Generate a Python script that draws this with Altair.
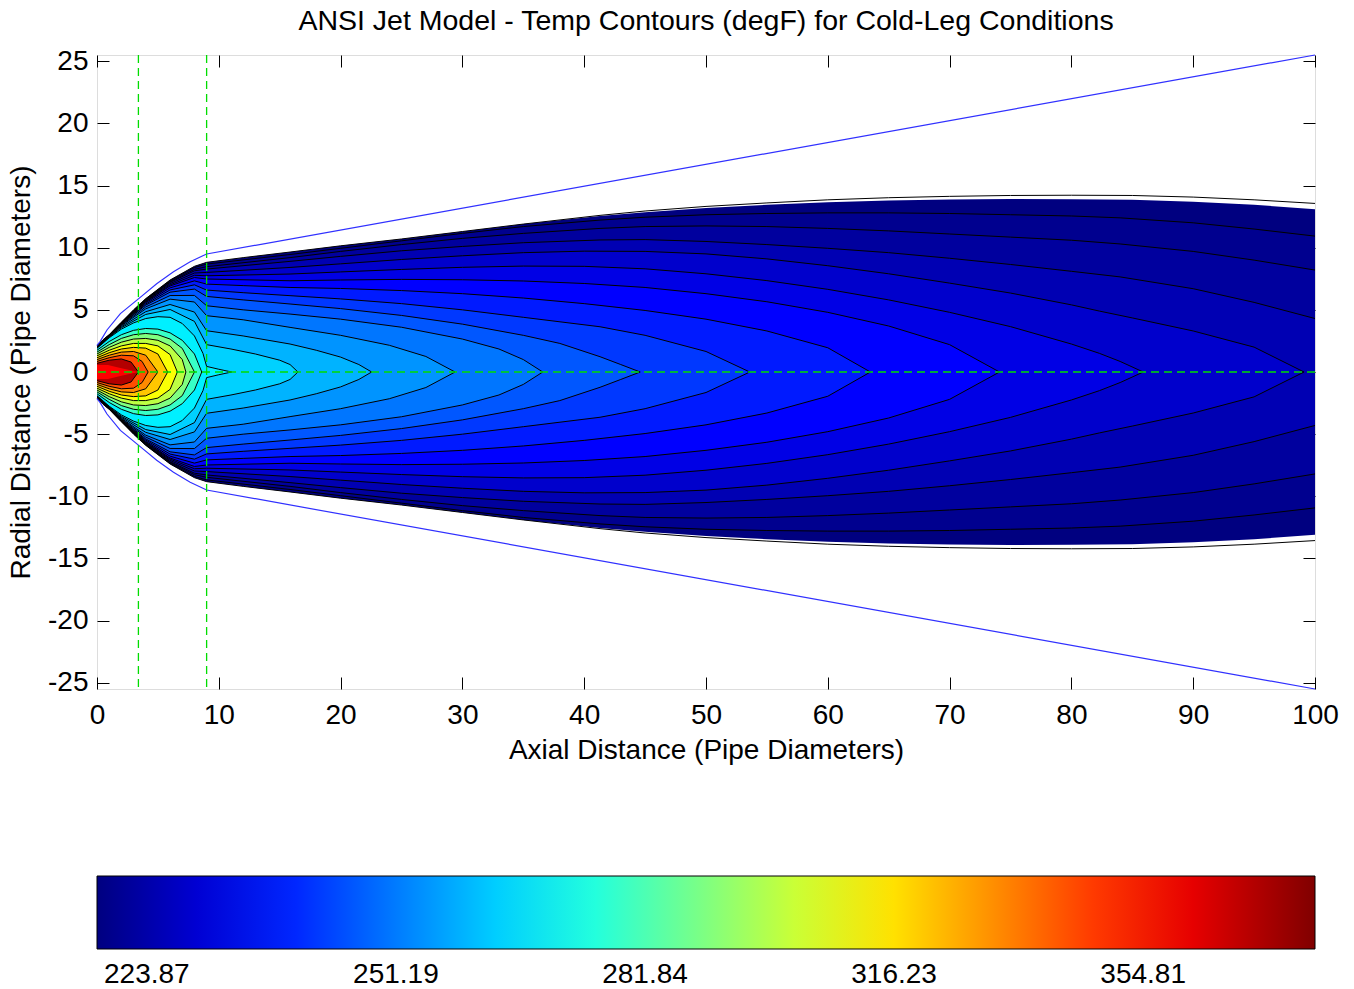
import altair as alt
import pandas as pd
import numpy as np

FONT = "Liberation Sans"
TITLE = "ANSI Jet Model - Temp Contours (degF) for Cold-Leg Conditions"
X_TITLE = "Axial Distance (Pipe Diameters)"
Y_TITLE = "Radial Distance (Pipe Diameters)"
X_TICKS = [0, 10, 20, 30, 40, 50, 60, 70, 80, 90, 100]
Y_TICKS = [-25, -20, -15, -10, -5, 0, 5, 10, 15, 20, 25]
CBAR_TICKS_LOG = [2.35, 2.40, 2.45, 2.50, 2.55]   # 223.87 ... 354.81 degF
CBAR_DOMAIN = [2.34, 2.3706, 2.4011, 2.4317, 2.4623, 2.4928, 2.5234, 2.5539, 2.5845]
JET = ["#000080", "#0000ff", "#0080ff", "#00ffff", "#80ff80",
       "#ffff00", "#ff8000", "#ff0000", "#800000"]

# ---- contour half-widths (x, y upper) ---------------------------------------
ENV_FILL = [(0, 2.1), (0.5, 2.6), (1, 3.0), (2, 4.0), (3, 5.0), (4, 5.9), (6, 7.4), (8, 8.5),
            (9, 8.82), (12, 9.2), (15.85, 9.65), (20, 10.15), (25, 10.7), (30, 11.3),
            (35, 11.9), (41.3, 12.55), (45, 12.85), (50, 13.2), (55, 13.45), (60, 13.65),
            (65, 13.8), (70, 13.88), (75, 13.92), (80, 13.9), (85, 13.85), (90, 13.7),
            (95, 13.45), (100, 13.1)]
ENV_RIM = [(0, 2.1), (0.5, 2.6), (1, 3.0), (2, 4.0), (3, 5.0), (4, 5.9), (6, 7.4), (8, 8.5),
           (9, 8.82), (12, 9.2), (15.85, 9.65), (20, 10.15), (25, 10.7), (30, 11.3),
           (35, 11.9), (41.3, 12.6), (45, 12.95), (50, 13.32), (55, 13.6), (60, 13.85),
           (65, 14.02), (70, 14.13), (75, 14.2), (80, 14.22), (85, 14.2), (90, 14.07),
           (95, 13.85), (100, 13.56)]
C_I = [(0, 2.1), (1, 2.99), (2, 3.99), (4, 5.87), (6, 7.35), (8, 8.40), (9, 8.68), (15.85, 9.45),
       (20, 9.95), (25, 10.55), (30, 11.15), (35, 11.7), (41.3, 12.22), (45, 12.45), (50, 12.65),
       (55, 12.75), (60, 12.8), (65, 12.8), (70, 12.75), (75, 12.65), (80, 12.55), (84, 12.4),
       (90, 12.0), (95, 11.5), (100, 10.93)]
C_H = [(0, 2.09), (1, 2.99), (2, 3.98), (4, 5.83), (6, 7.27), (8, 8.26), (9, 8.47), (15.85, 9.2),
       (20, 9.7), (25, 10.25), (30, 10.75), (35, 11.15), (41.3, 11.55), (45, 11.7), (50, 11.75),
       (55, 11.7), (60, 11.55), (65, 11.35), (70, 11.1), (75, 10.85), (80, 10.6), (84, 10.3),
       (90, 9.7), (95, 9.0), (100, 8.2)]
C_G = [(0, 2.09), (1, 2.98), (2, 3.96), (4, 5.80), (6, 7.21), (8, 8.14), (9, 8.28), (15.85, 8.9),
       (20, 9.3), (25, 9.75), (30, 10.1), (35, 10.4), (41.3, 10.62), (45, 10.65), (50, 10.5),
       (55, 10.25), (60, 9.95), (65, 9.6), (70, 9.15), (75, 8.65), (80, 8.1), (84, 7.65),
       (90, 6.7), (95, 5.6), (100, 4.3)]
C_F = [(0, 2.08), (1, 2.98), (2, 3.95), (4, 5.74), (6, 7.11), (8, 7.96), (9, 8.01), (15.85, 8.41),
       (20, 8.7), (25, 9.05), (30, 9.35), (35, 9.6), (40, 9.72), (45, 9.7), (50, 9.5),
       (55, 9.1), (60, 8.55), (65, 7.9), (70, 7.15), (75, 6.35), (80, 5.4), (82.3, 4.9),
       (85, 4.35), (90, 3.3), (95, 2.0), (99.1, 0)]
C_E = [(0, 2.07), (1, 2.97), (2, 3.93), (4, 5.69), (6, 7.01), (8, 7.78), (9, 7.74), (15.85, 7.88),
       (20, 8.05), (25, 8.25), (30, 8.42), (35, 8.52), (40, 8.5), (45, 8.3), (50, 7.9),
       (55, 7.35), (60, 6.65), (65, 5.8), (70, 4.8), (75, 3.65), (80, 2.25), (82.3, 1.5),
       (84, 0.85), (85.9, 0)]
C_D = [(0, 2.07), (1, 2.96), (2, 3.91), (4, 5.64), (6, 6.92), (8, 7.60), (9, 7.48), (15.85, 7.34),
       (20, 7.4), (25, 7.45), (30, 7.42), (35, 7.32), (40, 7.12), (45, 6.8), (50, 6.3),
       (55, 5.65), (60, 4.8), (65, 3.7), (70, 2.2), (74.1, 0)]
C_C = [(0, 2.06), (1, 2.95), (2, 3.89), (4, 5.57), (6, 6.77), (8, 7.33), (9, 7.07), (12, 6.95),
       (15.85, 6.8), (20, 6.72), (25, 6.55), (30, 6.3), (35, 5.95), (40, 5.5), (45, 4.95),
       (50, 4.25), (55, 3.3), (60, 1.95), (63.5, 0)]
C_B = [(0, 2.05), (1, 2.93), (2, 3.85), (4, 5.47), (6, 6.60), (8, 7.01), (9, 6.59), (12, 6.38),
       (15.85, 6.14), (20, 5.88), (25, 5.5), (30, 5.0), (35, 4.4), (41.3, 3.64), (45, 2.95),
       (50, 1.65), (53.6, 0)]
C_A = [(0, 2.03), (1, 2.92), (2, 3.82), (4, 5.38), (6, 6.42), (8, 6.67), (9, 6.08), (12, 5.8),
       (15.85, 5.47), (20, 5.1), (25, 4.55), (30, 3.85), (35, 2.95), (38, 2.3), (41.3, 1.23),
       (43, 0.6), (44.6, 0)]
C_36 = [(0, 2.02), (1, 2.90), (2, 3.77), (4, 5.23), (6, 6.15), (8, 6.16), (9, 5.33), (12, 5.0),
        (15.85, 4.66), (20, 4.25), (25, 3.6), (30, 2.65), (33, 1.85), (35, 1.0), (36.6, 0)]
C_29 = [(0, 2.0), (1, 2.87), (2, 3.72), (4, 5.08), (6, 5.86), (8, 5.63), (9, 4.53), (12, 4.2),
        (15.85, 3.59), (20, 2.95), (24, 2.15), (27, 1.25), (29.4, 0)]
C_22 = [(0, 1.97), (1, 2.84), (2, 3.64), (4, 4.85), (6, 5.43), (8, 4.82), (9, 3.32), (12, 2.9),
        (15.85, 2.25), (18, 1.75), (20, 1.2), (21.5, 0.6), (22.55, 0)]
C_16 = [(0, 1.94), (1, 2.80), (2, 3.56), (4, 4.63), (6, 5.03), (8, 4.07), (9, 2.2), (11, 1.85),
        (13, 1.45), (15, 0.95), (15.85, 0.6), (16.5, 0)]
C_11 = [(0, 1.9), (1, 2.75), (2, 3.45), (3, 3.95), (4, 4.3), (5, 4.45), (6, 4.4), (7, 3.9),
        (8, 2.9), (8.7, 1.5), (9, 0.45), (10, 0.22), (11.06, 0)]
N_1 = [(0, 1.75), (1, 2.45), (2, 3.0), (3, 3.35), (4, 3.5), (5, 3.45), (6, 3.15), (7, 2.55),
       (8, 1.45), (8.6, 0)]
N_2 = [(0, 1.6), (1, 2.2), (2, 2.7), (3, 3.0), (4, 3.1), (5, 3.0), (6, 2.65), (7, 1.9), (8.0, 0)]
N_3 = [(0, 1.45), (1, 1.98), (2, 2.4), (3, 2.65), (4, 2.7), (5, 2.55), (6, 2.1), (7, 1.0), (7.3, 0)]
N_4 = [(0, 1.3), (1, 1.75), (2, 2.1), (3, 2.3), (4, 2.3), (5, 2.1), (6, 1.4), (6.6, 0)]
N_5 = [(0, 1.15), (1, 1.55), (2, 1.85), (3, 1.98), (4, 1.92), (5, 1.45), (5.8, 0)]
N_6 = [(0, 1.0), (1, 1.35), (2, 1.6), (3, 1.65), (4, 1.35), (5.0, 0)]
N_7 = [(0, 0.85), (1, 1.15), (2, 1.35), (3, 1.3), (3.7, 0.85), (4.2, 0)]
N_8 = [(0, 0.7), (1, 0.95), (2, 1.05), (2.8, 0.8), (3.4, 0)]
STRIP = [(0, 0.57), (0.9, 0.57), (2.0, 0.3), (3.4, 0)]

# band temperature (degF) inside each contour, outermost first
CONTOURS = [
    ("env", 218.8, ENV_FILL), ("rim", 218.8, ENV_RIM),
    ("I", 220.6, C_I), ("H", 222.5, C_H), ("G", 225.0, C_G),
    ("F", 228.2, C_F), ("E", 231.4, C_E), ("D", 234.7, C_D), ("C", 238.1, C_C),
    ("B", 242.1, C_B), ("A", 246.2, C_A), ("c36", 250.4, C_36), ("c29", 254.7, C_29),
    ("c22", 259.0, C_22), ("c16", 263.4, C_16), ("c11", 267.9, C_11),
    ("n1", 278.7, N_1), ("n2", 289.9, N_2), ("n3", 299.8, N_3), ("n4", 310.1, N_4),
    ("n5", 320.8, N_5), ("n6", 331.8, N_6), ("n7", 343.2, N_7), ("n8", 373.5, N_8),
    ("strip", 358.1, STRIP),
]
NO_LINE = {"strip", "env"}
NO_AREA = {"rim"}

BLUE_X = [0, 0.25, 0.82, 1.92, 3.45, 4.9, 6.28, 7.65, 9.0, 100]
BLUE_Y = [2.15, 2.45, 3.38, 4.7, 5.92, 7.1, 8.07, 8.87, 9.49, 25.5]
GREEN_X = [3.4, 9.0]
GREEN_Y = [0]

# ---- tables -----------------------------------------------------------------
arows, lrows = [], []
for k, (name, T, pts) in enumerate(CONTOURS):
    for x, h in pts:
        if name not in NO_AREA:
            arows.append(dict(cid=k, T=T, lt=float(np.log10(T)), x=x, h=h, nh=-h))
        if name not in NO_LINE:
            lrows.append(dict(cid=k, side="u", x=x, y=h))
            lrows.append(dict(cid=k, side="l", x=x, y=-h))
df_area = pd.DataFrame(arows)
df_line = pd.DataFrame(lrows)
df_blue = pd.DataFrame(
    [dict(side="u", x=x, y=y) for x, y in zip(BLUE_X, BLUE_Y)]
    + [dict(side="l", x=x, y=-y) for x, y in zip(BLUE_X, BLUE_Y)]
)
df_gx = pd.DataFrame({"x": GREEN_X})
df_gy = pd.DataFrame({"y": GREEN_Y})

xs = alt.Scale(domain=[0, 100], nice=False, zero=False)
ys = alt.Scale(domain=[-25.5, 25.5], nice=False, zero=False)

lab = dict(labelFont=FONT, labelFontSize=28, labelColor="black", tickColor="black",
           titleFont=FONT, titleFontSize=28, titleFontWeight="normal", titleColor="black",
           labelFlush=False)
ax_bottom = alt.Axis(orient="bottom", values=X_TICKS, offset=-12, tickSize=12, domain=False,
                     grid=False, labelPadding=12, labelExpr="datum.value + ''",
                     title=X_TITLE, titlePadding=7, **lab)
ax_left = alt.Axis(orient="left", values=Y_TICKS, offset=-12, tickSize=12, domain=False,
                   grid=False, labelPadding=9, labelExpr="datum.value + ''",
                   title=Y_TITLE, titlePadding=12, **lab)
ax_top = alt.Axis(orient="top", values=X_TICKS, offset=-12, tickSize=12, domain=False,
                  grid=False, labels=False, title="", tickColor="black")
ax_right = alt.Axis(orient="right", values=Y_TICKS, offset=-12, tickSize=12, domain=False,
                    grid=False, labels=False, title="", tickColor="black")

color = alt.Color(
    "lt:Q",
    scale=alt.Scale(domain=CBAR_DOMAIN, range=JET, interpolate="rgb"),
    legend=alt.Legend(
        orient="none", legendX=0, legendY=821, direction="horizontal",
        gradientLength=1218, gradientThickness=73, gradientStrokeColor="black",
        gradientStrokeWidth=1, values=CBAR_TICKS_LOG,
        labelExpr="format(pow(10, datum.value), '.2f')",
        labelFont=FONT, labelFontSize=28, labelColor="black", labelOffset=12,
        padding=0, title=None,
    ),
)

layers = []
area_ids = [k for k, c in enumerate(CONTOURS) if c[0] not in NO_AREA]
for i, k in enumerate(area_ids):
    xa = alt.X("x:Q", scale=xs, axis=ax_bottom if i == 0 else None)
    ya = alt.Y("h:Q", scale=ys, axis=ax_left if i == 0 else None)
    layers.append(
        alt.Chart(df_area)
        .transform_filter(alt.datum.cid == k)
        .mark_area(interpolate="linear", strokeWidth=0)
        .encode(x=xa, y=ya, y2="nh:Q", color=color)
    )

lines = alt.Chart(df_line).mark_line(color="black", strokeWidth=1).encode(
    x=alt.X("x:Q", scale=xs, axis=None),
    y=alt.Y("y:Q", scale=ys, axis=None),
    detail=["cid:N", "side:N"],
    order=alt.Order("x:Q"),
)
blue = alt.Chart(df_blue).mark_line(color="#3030ff", strokeWidth=1.2).encode(
    x=alt.X("x:Q", scale=xs, axis=None),
    y=alt.Y("y:Q", scale=ys, axis=None),
    detail="side:N",
    order=alt.Order("x:Q"),
)
gvert = alt.Chart(df_gx).mark_rule(color="#00dd00", strokeWidth=1.3, strokeDash=[8, 5]).encode(
    x=alt.X("x:Q", scale=xs, axis=ax_top)
)
ghor = alt.Chart(df_gy).mark_rule(color="#00dd00", strokeWidth=1.3, strokeDash=[8, 5]).encode(
    y=alt.Y("y:Q", scale=ys, axis=ax_right)
)

chart = (
    alt.layer(*layers, lines, blue, gvert, ghor)
    .resolve_axis(x="independent", y="independent")
    .properties(
        width=1218, height=634,
        title=alt.TitleParams(TITLE, font=FONT, fontSize=28.5, fontWeight="normal",
                              color="black", anchor="middle", baseline="alphabetic",
                              offset=-11),
        autosize=alt.AutoSizeParams(type="none"),
        padding={"left": 97, "top": 55, "right": 39, "bottom": 300},
    )
    .configure_view(stroke="black", strokeWidth=1)
    .configure(background="white")
)

chart.save("out.html", embed_options={"renderer": "svg", "actions": False})
